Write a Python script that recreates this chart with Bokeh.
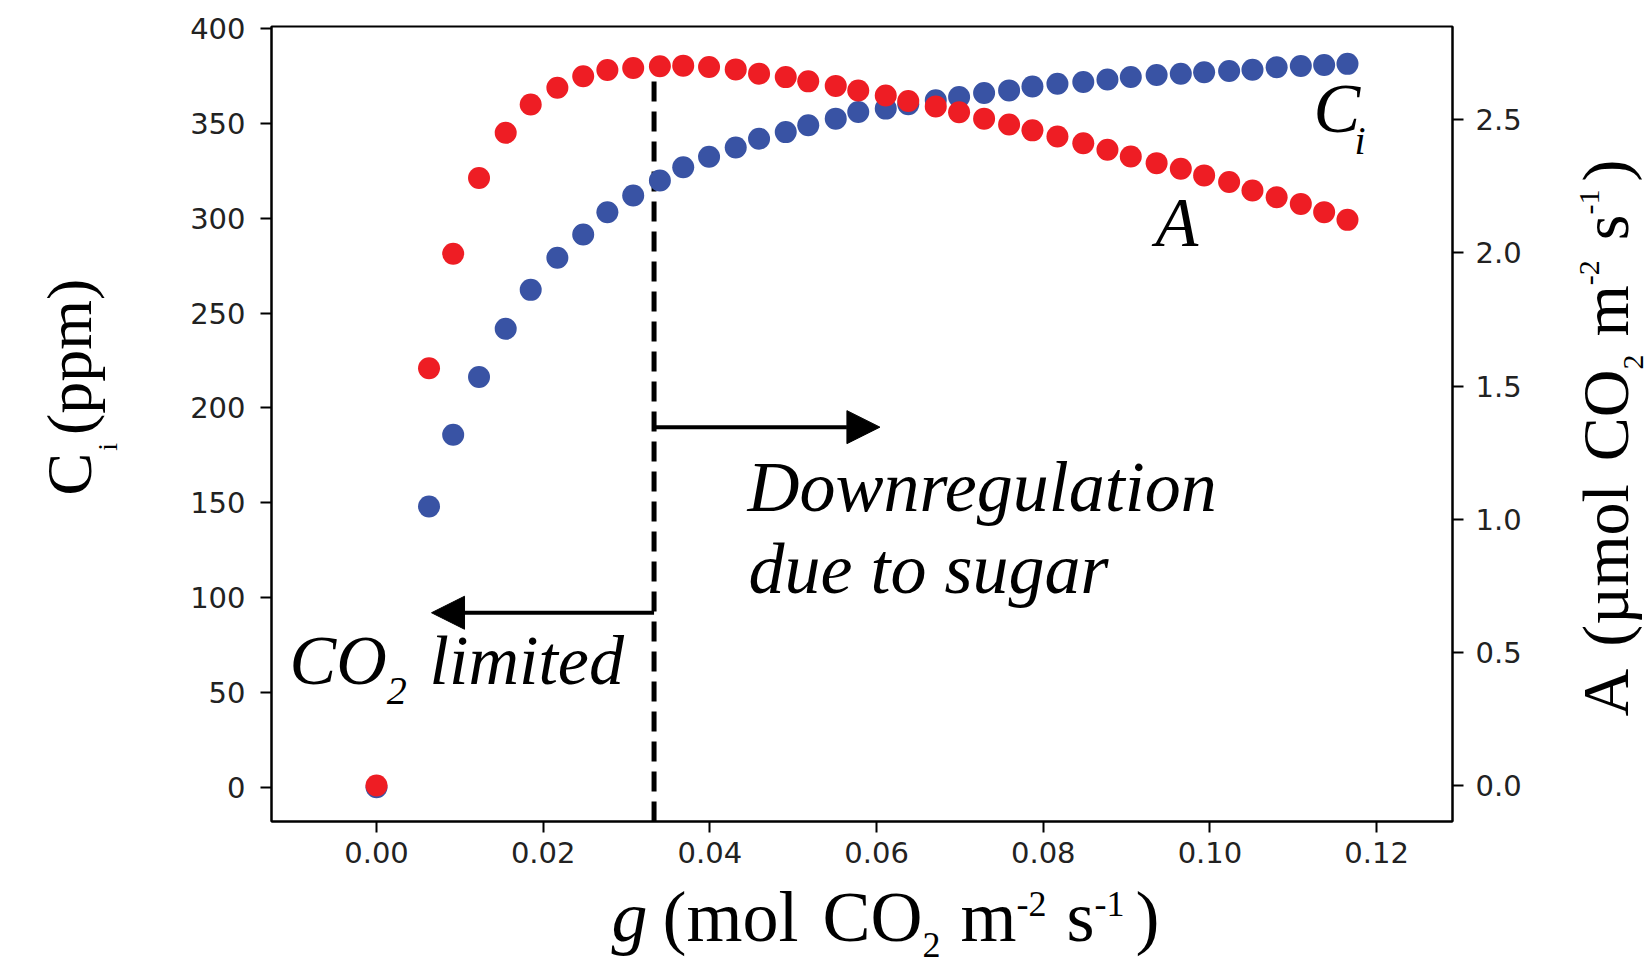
import math
from bokeh.plotting import figure
from bokeh.layouts import row, column
from bokeh.models import (Range1d, LinearAxis, FixedTicker, PrintfTickFormatter,
                          Label, Arrow, NormalHead)
from bokeh.core.properties import value
from bokeh.embed import file_html
from bokeh.resources import INLINE

# ---------------- data ----------------
g_values = [0.0, 0.0063, 0.0092, 0.0123, 0.0155, 0.0185, 0.0217, 0.0248, 0.0277,
            0.0308, 0.0340, 0.0368, 0.0399, 0.0431, 0.0459, 0.0491, 0.0518, 0.0551,
            0.0578, 0.0611, 0.0638, 0.0671, 0.0699, 0.0729, 0.0759, 0.0787, 0.0817,
            0.0848, 0.0877, 0.0905, 0.0936, 0.0965, 0.0993, 0.1023, 0.1051, 0.1080,
            0.1109, 0.1137, 0.1165]
ci_values = [0.0, 148.0, 185.9, 216.3, 241.8, 262.3, 279.2, 291.5, 303.2, 312.1,
             320.0, 327.0, 332.5, 337.4, 342.0, 345.5, 349.1, 352.6, 356.1, 357.9,
             360.2, 362.3, 364.0, 366.1, 367.5, 369.6, 371.0, 371.9, 373.2, 374.6,
             375.6, 376.3, 377.1, 377.7, 378.4, 379.7, 380.4, 380.9, 381.5]
a_values = [0.0, 1.567, 1.997, 2.281, 2.451, 2.557, 2.620, 2.663, 2.687, 2.694,
            2.701, 2.703, 2.698, 2.689, 2.673, 2.660, 2.644, 2.627, 2.610, 2.591,
            2.570, 2.550, 2.528, 2.504, 2.482, 2.460, 2.437, 2.412, 2.387, 2.362,
            2.337, 2.316, 2.291, 2.266, 2.234, 2.209, 2.184, 2.153, 2.124]

x_ticks = [0.0, 0.02, 0.04, 0.06, 0.08, 0.10, 0.12]
ci_ticks = [0, 50, 100, 150, 200, 250, 300, 350, 400]
a_ticks = [0.0, 0.5, 1.0, 1.5, 2.0, 2.5]

g_threshold = 0.0333
dash_top_ci = 383.6
arrow_right_ci = 189.9
arrow_right_tip_g = 0.0604
arrow_left_ci = 92.0
arrow_left_tip_g = 0.0066

X_RANGE = (-0.0126, 0.1291)
CI_RANGE = (-18.1, 401.2)
A_RANGE = (-0.135, 2.850)

# ---------------- layout (page pixels) ----------------
W_TOTAL, H_TOTAL = 1650, 966
FRAME_L, FRAME_T, FRAME_W, FRAME_H = 271, 26, 1181, 795
MBL, MBR, MBB = 110, 80, 55
P_W = MBL + FRAME_W + MBR
P_H = FRAME_T + FRAME_H + MBB
WL = FRAME_L - MBL
WR = W_TOTAL - WL - P_W
HB = H_TOTAL - P_H

BLUE = "#3953A4"
RED = "#EE1D24"
SERIF = "Liberation Serif"
TICKFONT = "DejaVu Sans"
MID = 0.33  # baseline offset (fraction of font size) for "middle" anchored text

p = figure(width=P_W, height=P_H, x_range=Range1d(*X_RANGE), y_range=Range1d(*CI_RANGE),
           output_backend="svg", toolbar_location=None,
           min_border_left=MBL, min_border_top=FRAME_T,
           min_border_right=MBR, min_border_bottom=MBB,
           background_fill_color="white", border_fill_color="white")
p.xgrid.visible = False
p.ygrid.visible = False
p.outline_line_color = "black"
p.outline_line_width = 2

p.extra_y_ranges = {"A": Range1d(*A_RANGE)}
right_axis = LinearAxis(y_range_name="A")
p.add_layout(right_axis, "right")


def style_axis(ax, ticks, fmt, standoff):
    ax.ticker = FixedTicker(ticks=ticks)
    ax.formatter = PrintfTickFormatter(format=fmt)
    ax.axis_line_width = 2
    ax.axis_line_color = "black"
    ax.major_tick_line_width = 2
    ax.major_tick_line_color = "black"
    ax.major_tick_out = 11
    ax.major_tick_in = 0
    ax.minor_tick_line_color = None
    ax.major_label_text_font = TICKFONT
    ax.major_label_text_font_size = "29px"
    ax.major_label_text_color = "#222222"
    ax.major_label_standoff = standoff


style_axis(p.xaxis[0], x_ticks, "%.2f", 9)
style_axis(p.yaxis[0], ci_ticks, "%d", 15)
style_axis(right_axis, a_ticks, "%.1f", 12)

# dashed threshold line
p.segment(x0=[g_threshold], y0=[CI_RANGE[0]], x1=[g_threshold], y1=[dash_top_ci],
          line_color="black", line_width=5, line_dash="20 10")

# arrows
for y_ci, tip in ((arrow_right_ci, arrow_right_tip_g), (arrow_left_ci, arrow_left_tip_g)):
    p.add_layout(Arrow(end=NormalHead(size=33, fill_color="black", line_color="black", line_width=1),
                       x_start=g_threshold, y_start=y_ci, x_end=tip, y_end=y_ci,
                       line_color="black", line_width=4))

# points
p.scatter(g_values, ci_values, size=22, fill_color=BLUE, line_color=None)
p.scatter(g_values, a_values, size=22, fill_color=RED, line_color=None, y_range_name="A")


# ---------------- text inside the plot frame ----------------
def xd(X):
    return X_RANGE[0] + (X - FRAME_L) / FRAME_W * (X_RANGE[1] - X_RANGE[0])


def yd(Y):
    return CI_RANGE[1] - (Y - FRAME_T) / FRAME_H * (CI_RANGE[1] - CI_RANGE[0])


REG = {'A': 722, 'C': 667, 'O': 722, 'g': 500, 'm': 778, 'o': 500, 'l': 278, 's': 389,
       'p': 500, 'µ': 500, '(': 333, ')': 333, ' ': 250, '-': 333, '1': 500, '2': 500, 'i': 278}
ITA = {'A': 611, 'C': 667, 'O': 722, 'g': 500, 'i': 278, '2': 500}


def adv(text, size, italic):
    tab = ITA if italic else REG
    return sum(tab.get(c, 500) for c in text) / 1000.0 * size


def put(text, X, Ybase, size, italic=True):
    p.add_layout(Label(x=xd(X), y=yd(Ybase - MID * size), x_units="data", y_units="data",
                       text=text, text_font=SERIF, text_font_size=f"{size}px",
                       text_font_style="italic" if italic else "normal",
                       text_align="left", text_baseline="middle", text_color="black"))


put("Downregulation", 747, 510, 72)
put("due to sugar", 748, 592, 72)
put("CO", 289, 683, 70)
put("2", 289 + adv("CO", 70, True), 704, 40)
put("limited", 429, 683, 70)
put("A", 1155, 245, 70)
put("C", 1313, 131, 70)
put("i", 1354, 153, 40)


# ---------------- axis titles in side panels ----------------
# side panels share the main frame's top/bottom borders, so their y range is page pixels
def side(w, ox):
    return figure(width=w, height=P_H, x_range=Range1d(ox, ox + w),
                  y_range=Range1d(FRAME_T + FRAME_H, FRAME_T),
                  x_axis_type=None, y_axis_type=None, toolbar_location=None,
                  output_backend="svg", min_border_left=0, min_border_right=0,
                  min_border_top=FRAME_T, min_border_bottom=MBB, outline_line_color=None,
                  background_fill_color="white", border_fill_color="white")


left_fig = side(WL, 0)
right_fig = side(WR, WL + P_W)
bottom_fig = figure(width=W_TOTAL, height=HB, x_range=Range1d(0, W_TOTAL),
                    y_range=Range1d(H_TOTAL, P_H),
                    x_axis_type=None, y_axis_type=None, toolbar_location=None,
                    output_backend="svg", min_border=0, outline_line_color=None,
                    background_fill_color="white", border_fill_color="white")


def seq_text(fig, X0, Y0, runs, vertical=False):
    pos = 0.0
    for text, size, italic, shift, gap in runs:
        style = value("italic" if italic else "normal")
        if vertical:
            xb, y = X0 - shift, Y0 - pos
            fig.text(x=[xb - MID * size], y=[y], text=[text], angle=math.pi / 2,
                     text_font=value(SERIF), text_font_size=value(f"{size}px"),
                     text_font_style=style, text_align=value("left"),
                     text_baseline=value("middle"), text_color="black")
        else:
            x, yb = X0 + pos, Y0 - shift
            fig.text(x=[x], y=[yb - MID * size], text=[text],
                     text_font=value(SERIF), text_font_size=value(f"{size}px"),
                     text_font_style=style, text_align=value("left"),
                     text_baseline=value("middle"), text_color="black")
        pos += adv(text, size, italic) + gap


# x axis title: g (mol CO2 m-2 s-1)
seq_text(bottom_fig, 611, 940, [
    ("g", 72, True, 0, 15), ("(mol", 72, False, 0, 24), ("CO", 72, False, 0, 0),
    ("2", 36, False, -16, 20), ("m", 72, False, 0, 0), ("-2", 36, False, 25, 20),
    ("s", 72, False, 0, 0), ("-1", 36, False, 25, 11), (")", 72, False, 0, 0)])

# left axis title: Ci (ppm)
seq_text(left_fig, 90, 495, [
    ("C", 64, False, 0, 2), ("i", 28, False, -26, 8), ("(ppm)", 64, False, 0, 0)],
    vertical=True)

# right axis title: A (µmol CO2 m-2 s-1)
seq_text(right_fig, 1627, 716, [
    ("A", 66, False, 0, 22), ("(µmol", 66, False, 0, 28), ("CO", 66, False, 0, 0),
    ("2", 30, False, -16, 18), ("m", 66, False, 0, 0), ("-2", 30, False, 28, 20),
    ("s", 66, False, 0, 0), ("-1", 30, False, 28, 8), (")", 66, False, 0, 0)],
    vertical=True)

layout = column(row(left_fig, p, right_fig), bottom_fig)
open("out.html", "w").write(file_html(layout, INLINE))
